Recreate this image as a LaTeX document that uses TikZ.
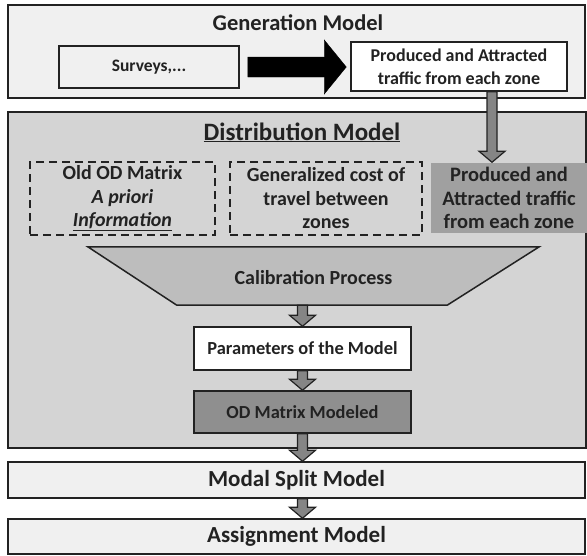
\documentclass[tikz,border=0pt]{standalone}
\usepackage{fontspec}
\setmainfont{Carlito}
\usetikzlibrary{arrows.meta, positioning, shapes.geometric, calc}
\definecolor{lineDark}{HTML}{222222}
\definecolor{paleGray}{HTML}{F0F0F0}
\definecolor{distGray}{HTML}{D4D4D4}
\definecolor{calibGray}{HTML}{BDBDBD}
\definecolor{zoneGray}{HTML}{A0A0A0}
\definecolor{odGray}{HTML}{8F8F8F}
\definecolor{arrowGray}{HTML}{858585}
\tikzset{
  stagebox/.style={draw=lineDark, line width=1.5pt, minimum width=577pt, inner sep=0pt, text=lineDark,
    font=\fontsize{23}{26}\selectfont\bfseries},
  stagetitle/.style={anchor=base, text=lineDark, font=\fontsize{22.5}{26}\selectfont\bfseries},
  stepbox/.style={draw=lineDark, line width=1.5pt, align=center, inner sep=0pt, text=lineDark,
    font=\fontsize{18.4}{23}\selectfont\bfseries},
  dashbox/.style={draw=lineDark, line width=1.6pt, dash pattern=on 8pt off 5pt, align=center,
    inner sep=0pt, text=lineDark, font=\fontsize{20}{23.5}\selectfont\bfseries},
  downarr/.style={draw=lineDark, fill=arrowGray, line width=1.2pt, to path={
    let \p1=(\tikztostart), \p2=(\tikztotarget) in
    (\x1-5pt,\y1) -- (\x1-5pt,\y2+11pt) -- (\x1-13pt,\y2+11pt) -- (\x1,\y2)
    -- (\x1+13pt,\y2+11pt) -- (\x1+5pt,\y2+11pt) -- (\x1+5pt,\y1) -- cycle}},
  rightarr/.style={draw=black, fill=black, to path={
    let \p1=(\tikztostart), \p2=(\tikztotarget) in
    (\x1+8pt,\y1-10pt) -- (\x2-26pt,\y1-10pt) -- (\x2-26pt,\y1-27pt) -- (\x2-4pt,\y1)
    -- (\x2-26pt,\y1+27pt) -- (\x2-26pt,\y1+10pt) -- (\x1+8pt,\y1+10pt) -- cycle}},
}
\begin{document}
\begin{tikzpicture}[x=1pt, y=-1pt]
  \useasboundingbox (0,0) rectangle (587,555);
  % generation model
  \node[stagebox, fill=paleGray, minimum height=93pt] (genbox) at (296.5,51.5) {};
  \node[stagetitle] (gentitle) at (298,30) {Generation Model};
  \node[stepbox, fill=paleGray, minimum width=180pt, minimum height=42pt,
    font=\fontsize{17.5}{20}\selectfont\bfseries] (surv) at (149,67) {Surveys,...};
  \node[stepbox, fill=white, minimum width=216pt, minimum height=49pt,
    font=\fontsize{18}{23}\selectfont\bfseries] (prodgen) at (459,66.5)
    {Produced and Attracted\\traffic from each zone};
  \draw[rightarr] (surv.east) to (prodgen.west);
  % distribution model
  \node[stagebox, fill=distGray, minimum width=578pt, minimum height=336pt] (distbox) at (297,280) {};
  \node[stagetitle, font=\fontsize{25}{28}\selectfont\bfseries] (disttitle) at (302,140)
    {\underline{Distribution Model}};
  \node[dashbox, minimum width=185pt, minimum height=73pt] (oldod) at (122.5,198.5)
    {Old OD Matrix\\\textit{A priori}\\\underline{\textit{Information}}};
  \node[dashbox, minimum width=192pt, minimum height=73pt] (gencost) at (326,198.5)
    {Generalized cost of\\travel between\\zones};
  \node[stepbox, draw=none, fill=zoneGray, minimum width=156pt, minimum height=70pt,
    font=\fontsize{20.5}{23.5}\selectfont\bfseries] (proddist) at (509,198)
    {Produced and\\Attracted traffic\\from each zone};
  \node[minimum width=451pt, minimum height=58pt, inner sep=0pt] (calib) at (313.5,276) {};
  \draw[draw=lineDark, line width=1.5pt, fill=calibGray] (calib.north west) -- (calib.north east)
    -- ([xshift=-92pt]calib.south east) -- ([xshift=89pt]calib.south west) -- cycle;
  \node[stepbox, draw=none, font=\fontsize{20}{23}\selectfont\bfseries] (calibtext) at ([yshift=-2pt]calib)
    {Calibration Process};
  \node[stepbox, fill=white, minimum width=217pt, minimum height=43pt] (params) at (302.5,348.5)
    {Parameters of the Model};
  \node[stepbox, fill=odGray, minimum width=217pt, minimum height=42pt] (odmod) at (302.5,412)
    {OD Matrix Modeled};
  % later stages
  \node[stagebox, fill=paleGray, minimum height=36pt] (modal) at (296.5,480) {Modal Split Model};
  \node[stagebox, fill=paleGray, minimum height=35pt] (assign) at (296.5,536.5) {Assignment Model};
  % flow
  \draw[downarr] ([xshift=33pt]prodgen.south) to ([xshift=-17pt]proddist.north);
  \draw[downarr] (params.north |- calib.south) to (params.north);
  \draw[downarr] (params.south) to (odmod.north);
  \draw[downarr] (odmod.south) to (odmod.south |- modal.north);
  \draw[downarr] (odmod.south |- modal.south) to (odmod.south |- assign.north);
\end{tikzpicture}
\end{document}
